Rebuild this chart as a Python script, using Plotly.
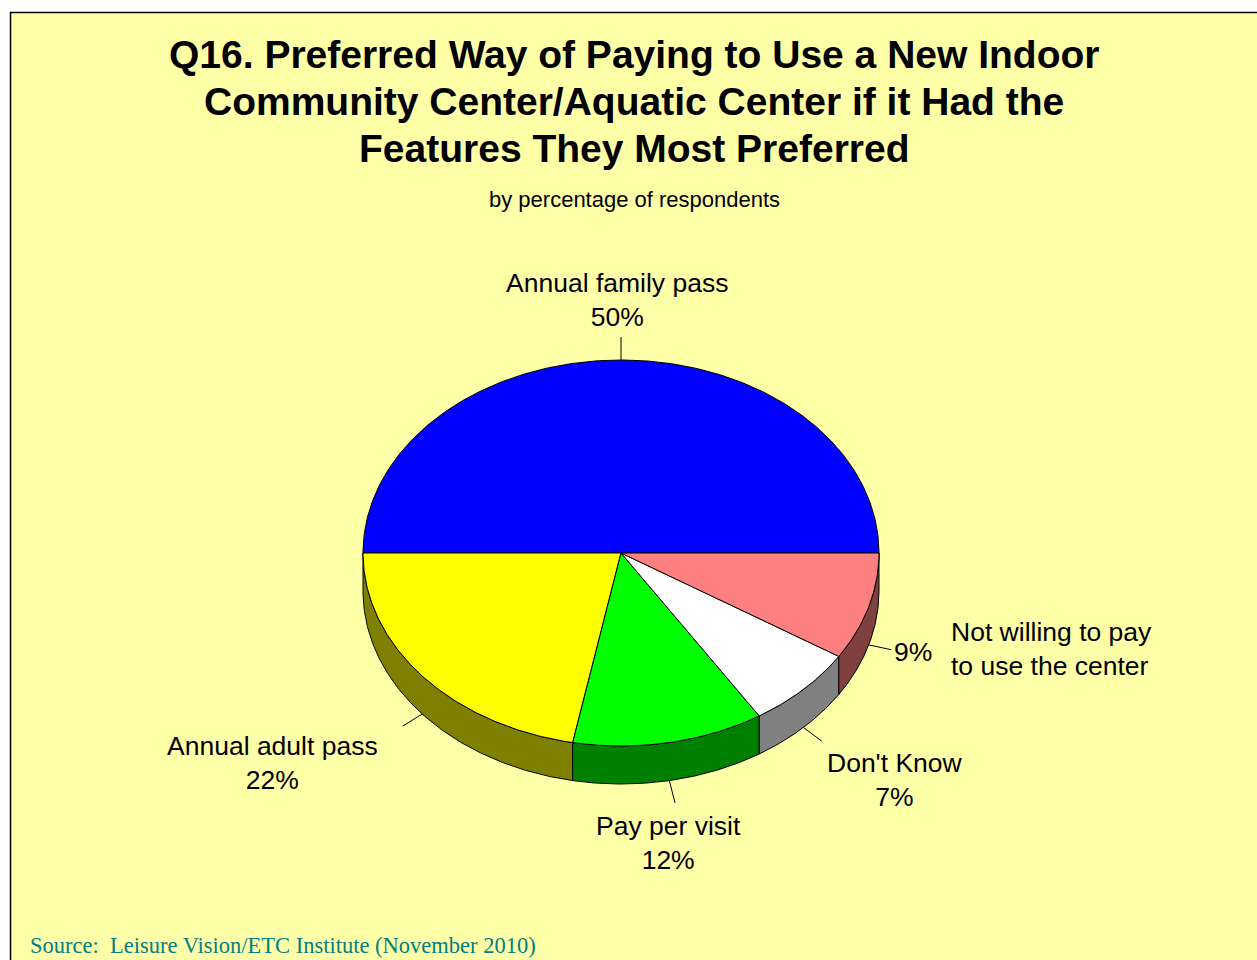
import numpy as np
import plotly.graph_objects as go

# Survey results (percentage of respondents)
categories = ["Annual family pass", "Annual adult pass", "Pay per visit",
              "Don't Know", "Not willing to pay to use the center"]
values = [50, 22, 12, 7, 9]
top_colors = ["#0000FF", "#FFFF00", "#00FF00", "#FFFFFF", "#FF8080"]
side_colors = ["#000080", "#808000", "#008000", "#808080", "#804040"]

title_lines = ["Q16. Preferred Way of Paying to Use a New Indoor",
               "Community Center/Aquatic Center if it Had the",
               "Features They Most Preferred"]
subtitle = "by percentage of respondents"
source = "Source:  Leisure Vision/ETC Institute (November 2010)"

W, H = 1257, 960
BG = "#FFFFA8"
SANS = "Arial, Liberation Sans, sans-serif"
SERIF = "Times New Roman, Liberation Serif, serif"

# Tilted-pie geometry (pixel space of the drawing axes)
cx, cy, rx, ry, depth = 621, 553, 258, 193, 38


def pt(theta_deg, drop=0.0):
    t = np.radians(theta_deg)
    return cx + rx * np.cos(t), cy - ry * np.sin(t) + drop


def arc(a0, a1, drop=0.0):
    n = max(int(abs(a1 - a0) * 2), 2)
    th = np.linspace(a0, a1, n)
    xs, ys = pt(th, drop)
    return list(xs), list(ys)


total = float(sum(values))
bounds = np.concatenate([[0.0], np.cumsum(values) / total * 360.0])

fig = go.Figure()

# Side walls of the front half (angles 180..360 face the viewer)
for i in range(len(values)):
    a0, a1 = max(bounds[i], 180.0), min(bounds[i + 1], 360.0)
    if a1 <= a0:
        continue
    tx, ty = arc(a0, a1)
    bx, by = arc(a1, a0, depth)
    fig.add_trace(go.Scatter(
        x=tx + bx + [tx[0]], y=ty + by + [ty[0]],
        mode="lines", fill="toself", fillcolor=side_colors[i],
        line=dict(color="black", width=1), hoverinfo="skip", showlegend=False))

# Top faces
for i in range(len(values)):
    ax, ay = arc(bounds[i], bounds[i + 1])
    fig.add_trace(go.Scatter(
        x=[cx] + ax + [cx], y=[cy] + ay + [cy],
        mode="lines", fill="toself", fillcolor=top_colors[i],
        line=dict(color="black", width=1),
        name=categories[i], hoverinfo="name", showlegend=False))

# Leader lines from each slice's middle angle
for i in range(len(values)):
    mid = (bounds[i] + bounds[i + 1]) / 2.0
    drop = depth if 180.0 < mid < 360.0 else 0.0
    x0, y0 = pt(mid, drop)
    t = np.radians(mid)
    dx, dy = rx * np.cos(t), -ry * np.sin(t)
    n = np.hypot(dx, dy)
    L = 23.0
    fig.add_trace(go.Scatter(
        x=[x0, x0 + dx / n * L], y=[y0, y0 + dy / n * L],
        mode="lines", line=dict(color="black", width=1),
        hoverinfo="skip", showlegend=False))

ann = []


def label(x, y, text, size=26.5, align="center", xanchor="center", font=SANS, color="black"):
    ann.append(dict(x=x, y=y, xref="x", yref="y", text=text, showarrow=False,
                    xanchor=xanchor, yanchor="middle", align=align,
                    font=dict(family=font, size=size, color=color)))


pct = [f"{v}%" for v in values]
label(617, 300, f"{categories[0]}<br>{pct[0]}")
label(272, 763, f"{categories[1]}<br>{pct[1]}")
label(668, 843, f"{categories[2]}<br>{pct[2]}")
label(895, 780, f"{categories[3]}<br>{pct[3]}")
label(892, 652, pct[4], xanchor="left")
label(949, 649, "Not willing to pay<br>to use the center", align="left", xanchor="left")

# Title, subtitle and source
for k, line in enumerate(title_lines):
    label(634, 54 + 47 * k, f"<b>{line}</b>", size=39)
label(634, 199, subtitle, size=22)
label(28, 945, source, size=22.5, xanchor="left", font=SERIF, color="#008080")

fig.update_layout(
    width=W, height=H,
    margin=dict(l=0, r=0, t=0, b=0),
    paper_bgcolor="white", plot_bgcolor="white",
    xaxis=dict(range=[0, W], visible=False, fixedrange=True),
    yaxis=dict(range=[H, 0], visible=False, fixedrange=True),
    annotations=ann,
    shapes=[dict(type="rect", xref="x", yref="y", x0=10.5, y0=12.5, x1=W + 20, y1=H + 20,
                 fillcolor=BG, line=dict(color="black", width=1.5), layer="below")],
)

fig.write_html("out.html")
